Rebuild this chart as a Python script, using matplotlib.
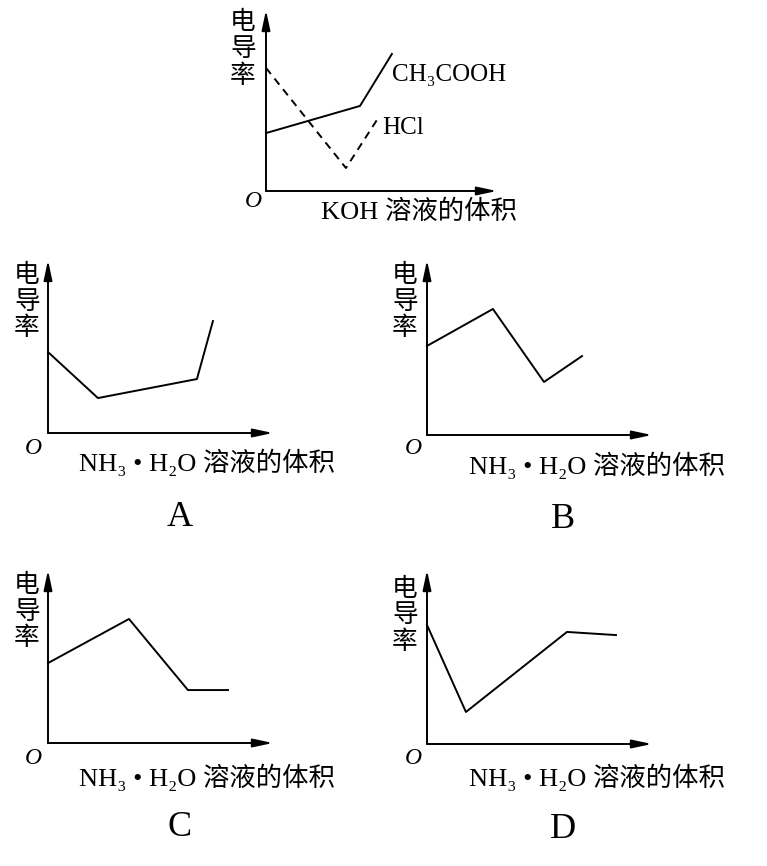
import matplotlib
matplotlib.use("Agg")
import matplotlib.pyplot as plt

W, H = 767, 866

# ---- data (arbitrary conductivity units, x = volume of added solution) ----
top_ch3cooh_x = [0, 4.07, 5.45]
top_ch3cooh_y = [3.2, 4.7, 7.57]
top_hcl_x = [0, 3.46, 4.8]
top_hcl_y = [6.8, 1.27, 3.92]

a_x = [0, 2.22, 6.62, 7.33]
a_y = [4.68, 2.02, 3.12, 6.47]
b_x = [0, 2.93, 5.2, 6.89]
b_y = [5.09, 7.2, 3.03, 4.51]
c_x = [0, 3.6, 6.22, 8.0]
c_y = [4.62, 7.17, 3.06, 3.06]
d_x = [0, 1.73, 6.22, 8.4]
d_y = [6.84, 1.84, 6.44, 6.26]

ylabel_chars = ["电", "导", "率"]
top_xlabel = "KOH 溶液的体积"
nh3_xlabel = "NH₃ • H₂O 溶液的体积"
panel_letters = ["A", "B", "C", "D"]
series_labels = ["CH₃COOH", "HCl"]

FAM = ["Liberation Serif", "DejaVu Serif", "Noto Sans CJK SC"]
CJK = ["Noto Sans CJK SC"]

fig = plt.figure(figsize=(W / 100, H / 100), dpi=100)
fig.patch.set_facecolor("white")


def fx(px):
    return px / W


def fy(py):
    return 1 - py / H


def make_axes(x0, xend, yaxis, ytop):
    ax = fig.add_axes([fx(x0), fy(yaxis), (xend - x0) / W, (yaxis - ytop) / H])
    ax.set_xlim(0, 10)
    ax.set_ylim(0, 10)
    ax.axis("off")
    ap = dict(arrowstyle="-|>,head_length=0.85,head_width=0.18", lw=1.4,
              color="black", shrinkA=0, shrinkB=0, mutation_scale=14)
    ax.annotate("", xy=(1, 0), xytext=(0, 0), xycoords="axes fraction",
                arrowprops=ap, annotation_clip=False)
    ax.annotate("", xy=(0, 1), xytext=(0, 0), xycoords="axes fraction",
                arrowprops=ap, annotation_clip=False)
    return ax


def ylabel(x, ys):
    for ch, y in zip(ylabel_chars, ys):
        fig.text(fx(x), fy(y), ch, family=CJK, fontsize=18.5, ha="center", va="center")


def origin(x, y):
    fig.text(fx(x), fy(y), "O", family=FAM, fontsize=17, style="italic",
             ha="center", va="center")


LW = 1.4
LABEL_FS = 19

# ---- top chart ----
ax0 = make_axes(266, 497, 191, 10)
ax0.plot(top_ch3cooh_x, top_ch3cooh_y, color="black", lw=LW, clip_on=False)
ax0.plot(top_hcl_x, top_hcl_y, color="black", lw=LW, ls=(0, (4, 3)), clip_on=False)
ylabel(243, [22, 49, 76])
origin(253, 202)
fig.text(fx(321), fy(212), top_xlabel, family=FAM, fontsize=LABEL_FS, ha="left", va="center")
fig.text(fx(392), fy(75), series_labels[0], family=FAM, fontsize=18, ha="left", va="center")
fig.text(fx(382), fy(128), series_labels[1], family=FAM, fontsize=18, ha="left", va="center")

# ---- panels ----
panels = [
    (a_x, a_y, (48, 273, 433, 260), 27, [275, 302, 328], (33, 448), (79, 462), (180, 518)),
    (b_x, b_y, (427, 652, 435, 260), 405, [275, 302, 328], (413, 449), (469, 465), (563, 520)),
    (c_x, c_y, (48, 273, 743, 570), 27, [585, 612, 638], (33, 758), (79, 777), (180, 828)),
    (d_x, d_y, (427, 652, 744, 570), 405, [589, 615, 642], (413, 759), (469, 777), (563, 830)),
]

for letter, (xs, ys, box, lx, lys, o, xl, lt) in zip(panel_letters, panels):
    ax = make_axes(*box)
    ax.plot(xs, ys, color="black", lw=LW, clip_on=False)
    ylabel(lx, lys)
    origin(*o)
    fig.text(fx(xl[0]), fy(xl[1]), nh3_xlabel, family=FAM, fontsize=LABEL_FS,
             ha="left", va="center")
    fig.text(fx(lt[0]), fy(lt[1]), letter, family=FAM, fontsize=26,
             ha="center", va="center")

fig.savefig("out.png", dpi=100, facecolor="white")
